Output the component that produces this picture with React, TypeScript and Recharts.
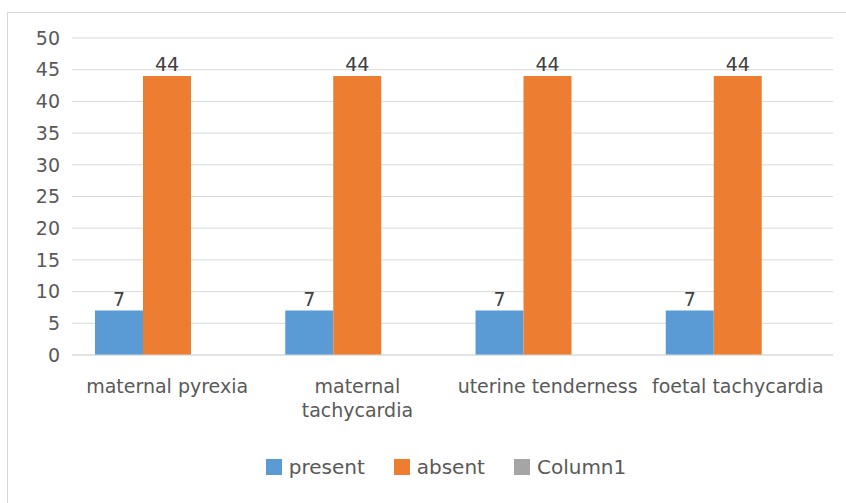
import React from "react";
import { BarChart, Bar, XAxis, YAxis, CartesianGrid, Legend, LabelList } from "recharts";

const categories = ["maternal pyrexia", "maternal tachycardia", "uterine tenderness", "foetal tachycardia"];
const tickLabelLines = [["maternal pyrexia"], ["maternal", "tachycardia"], ["uterine tenderness"], ["foetal tachycardia"]];
const presentValues = [7, 7, 7, 7];
const absentValues = [44, 44, 44, 44];
const column1Values = [0, 0, 0, 0];
const yTicks = [0, 5, 10, 15, 20, 25, 30, 35, 40, 45, 50];
const seriesNames = ["present", "absent", "Column1"];
const seriesColors = ["#5B9BD5", "#ED7D31", "#A5A5A5"];

const data = categories.map((c, i) => ({
  name: c,
  present: presentValues[i],
  absent: absentValues[i],
  Column1: column1Values[i],
}));

const FONT = "'DejaVu Sans', sans-serif";

const XTick = (props: any) => {
  const { x, y, index } = props;
  const lines = tickLabelLines[index] || [props.payload.value];
  return (
    <g>
      {lines.map((l: string, i: number) => (
        <text key={i} x={x} y={y + 36 + i * 24} textAnchor="middle" fill="#595959" fontSize={19} fontFamily={FONT}>
          {l}
        </text>
      ))}
    </g>
  );
};

const LegendContent = () => (
  <div style={{ display: "flex", justifyContent: "center", alignItems: "center", height: 30, paddingLeft: 59, fontFamily: FONT, fontSize: 20, color: "#595959" }}>
    {seriesNames.map((n, i) => (
      <div key={n} style={{ display: "flex", alignItems: "center", marginRight: i < 2 ? 29 : 0 }}>
        <div style={{ width: 16, height: 16, background: seriesColors[i], marginRight: 7 }} />
        <span>{n}</span>
      </div>
    ))}
  </div>
);

export default function App() {
  return (
    <div style={{ position: "absolute", left: 0, top: 0, width: 846, height: 503, background: "#fff" }}>
      <div style={{ position: "absolute", left: 7, top: 12, right: 0, bottom: 0, borderLeft: "1px solid #d9d9d9", borderTop: "1px solid #d9d9d9" }} />
      <div style={{ position: "absolute", left: 0, top: 0 }}>
        <BarChart width={846} height={503} data={data} margin={{ top: 38, right: 13, left: 0, bottom: 21 }} barCategoryGap={23} barGap={0}>
          <CartesianGrid vertical={false} stroke="#d9d9d9" />
          <XAxis dataKey="name" height={97} axisLine={{ stroke: "#d9d9d9" }} tickLine={false} tickSize={0} tick={<XTick />} interval={0} />
          <YAxis width={72} domain={[0, 50]} ticks={yTicks} axisLine={false} tickLine={false} tickSize={0} tickMargin={12}
            tick={{ fill: "#595959", fontSize: 19, fontFamily: FONT }} />
          <Legend verticalAlign="bottom" content={<LegendContent />} />
          <Bar dataKey="present" fill={seriesColors[0]} isAnimationActive={false}>
            <LabelList dataKey="present" position="top" offset={5} fill="#404040" fontSize={19} fontFamily={FONT} />
          </Bar>
          <Bar dataKey="absent" fill={seriesColors[1]} isAnimationActive={false}>
            <LabelList dataKey="absent" position="top" offset={5} fill="#404040" fontSize={19} fontFamily={FONT} />
          </Bar>
          <Bar dataKey="Column1" fill={seriesColors[2]} isAnimationActive={false} />
        </BarChart>
      </div>
    </div>
  );
}
